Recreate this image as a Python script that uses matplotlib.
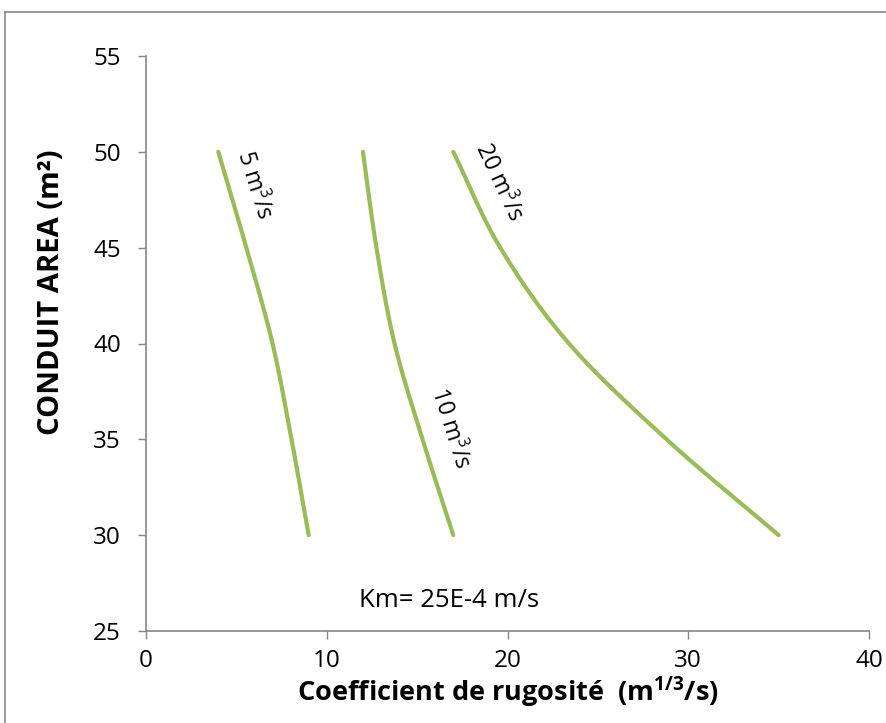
import numpy as np
import matplotlib
matplotlib.use("Agg")
import matplotlib.pyplot as plt
from matplotlib.lines import Line2D

plt.rcParams['font.family'] = ['Open Sans', 'DejaVu Sans']
plt.rcParams['mathtext.fontset'] = 'custom'
plt.rcParams['mathtext.rm'] = 'Open Sans'
plt.rcParams['mathtext.bf'] = 'Open Sans:bold'

# Data
area = [30, 35, 40, 45, 50]
k_5 = [9.0, 8.05, 7.0, 5.55, 4.0]
k_10 = [17.0, 15.3, 13.75, 12.75, 12.0]
k_20 = [35.0, 28.8, 23.4, 19.6, 17.0]
series_labels = [r"5 m$^3$/s", r"10 m$^3$/s", r"20 m$^3$/s"]
x_ticks = [0, 10, 20, 30, 40]
y_ticks = [25, 30, 35, 40, 45, 50, 55]


def smooth(xs, ys, n=30):
    # Catmull-Rom spline through the points (Excel-like smoothed line)
    p = np.column_stack([xs, ys]).astype(float)
    p = np.vstack([2 * p[0] - p[1], p, 2 * p[-1] - p[-2]])
    out = []
    for i in range(1, len(p) - 2):
        p0, p1, p2, p3 = p[i - 1], p[i], p[i + 1], p[i + 2]
        t = np.linspace(0, 1, n, endpoint=(i == len(p) - 3))[:, None]
        seg = 0.5 * ((2 * p1) + (-p0 + p2) * t + (2 * p0 - 5 * p1 + 4 * p2 - p3) * t ** 2
                     + (-p0 + 3 * p1 - 3 * p2 + p3) * t ** 3)
        out.append(seg)
    out = np.vstack(out)
    return out[:, 0], out[:, 1]


fig = plt.figure(figsize=(8.87, 7.23), dpi=100)
ax = fig.add_axes([146 / 887, 1 - 631 / 723, (869 - 146) / 887, (631 - 56) / 723])

green = '#9BBB59'
for ks in (k_5, k_10, k_20):
    sx, sy = smooth(ks, area)
    ax.plot(sx, sy, color=green, lw=3.0, solid_capstyle='round')

ax.set_xlim(0, 40)
ax.set_ylim(25, 55)
ax.set_xticks(x_ticks)
ax.set_yticks(y_ticks)
ax.tick_params(axis='both', labelsize=17.5, color='#868686', length=6, width=1, direction='out')
ax.tick_params(axis='y', pad=12)
ax.tick_params(axis='x', pad=7)
for s in ('top', 'right'):
    ax.spines[s].set_visible(False)
for s in ('left', 'bottom'):
    ax.spines[s].set_color('#868686')
    ax.spines[s].set_linewidth(1.2)

ax.set_xlabel(r"Coefficient de rugosité  (m$^{\mathbf{1/3}}$/s)", fontsize=19.5, fontweight='bold', va='center')
ax.xaxis.set_label_coords(0.5, (631 - 692) / 575)
ax.set_ylabel("CONDUIT AREA (m²)", fontsize=21, fontweight='bold', va='center')
ax.yaxis.set_label_coords((51 - 146) / 723, (631 - 292) / 575)

ax.text(5.97, 48.27, series_labels[0], rotation=-72.5, fontsize=16.5, ha='center', va='center', rotation_mode='anchor')
ax.text(16.8, 35.6, series_labels[1], rotation=-72.5, fontsize=16.5, ha='center', va='center', rotation_mode='anchor')
ax.text(19.5, 48.4, series_labels[2], rotation=-65, fontsize=16.5, ha='center', va='center', rotation_mode='anchor')
ax.text(16.77, 26.6, "Km= 25E-4 m/s", fontsize=18.5, ha='center', va='center')

# chart frame
fig.add_artist(Line2D([5 / 887, 5 / 887], [0, 1 - 12 / 723], color='#868686', lw=1.2, transform=fig.transFigure))
fig.add_artist(Line2D([5 / 887, 1], [1 - 12 / 723, 1 - 12 / 723], color='#868686', lw=1.2, transform=fig.transFigure))

fig.savefig("out.png", dpi=100)
